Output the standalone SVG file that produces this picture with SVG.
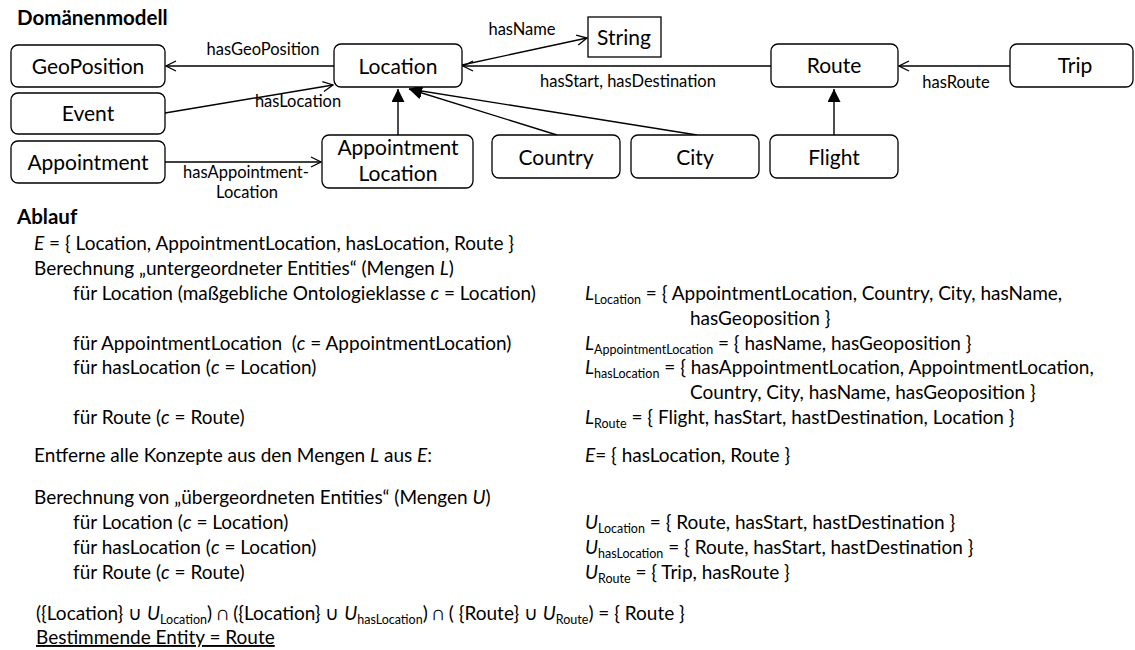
<svg xmlns="http://www.w3.org/2000/svg" width="1135" height="650" viewBox="0 0 1135 650">
  <style>
    text { font-family: Lato, "Liberation Sans", sans-serif; fill: #000; }
    .box { fill: #fff; stroke: #000; stroke-width: 1.3; }
    .lbl { font-size: 21px; text-anchor: middle; }
    .edge { font-size: 16.5px; text-anchor: middle; }
    .head { font-size: 20.5px; font-weight: bold; }
    .body { font-size: 19px; }
    .sub { font-size: 12.5px; }
    .it { font-style: italic; }
    .ln { fill: none; stroke: #000; stroke-width: 1.4; }
  </style>
  <defs>
    <marker id="open" viewBox="0 0 12 12" refX="11" refY="6" markerWidth="12" markerHeight="12" orient="auto" markerUnits="userSpaceOnUse">
      <path d="M1,1 L11,6 L1,11" fill="none" stroke="#000" stroke-width="1.3"/>
    </marker>
    <marker id="tri" viewBox="0 0 13 13" refX="13" refY="6.5" markerWidth="13" markerHeight="13" orient="auto" markerUnits="userSpaceOnUse">
      <path d="M0,0 L13,6.5 L0,13 z" fill="#000"/>
    </marker>
  </defs>

  <!-- domain model -->
  <text class="head" x="17" y="25">Domänenmodell</text>

  <g id="connectors">
    <line class="ln" x1="334" y1="66" x2="166" y2="66" marker-end="url(#open)"/>
    <line class="ln" x1="165" y1="113" x2="333" y2="85" marker-end="url(#open)"/>
    <line class="ln" x1="165" y1="162" x2="321" y2="162" marker-end="url(#open)"/>
    <line class="ln" x1="398" y1="135" x2="398" y2="89" marker-end="url(#tri)"/>
    <line class="ln" x1="557" y1="135" x2="409" y2="89" marker-end="url(#tri)"/>
    <line class="ln" x1="697" y1="135" x2="409" y2="89" marker-end="url(#tri)"/>
    <line class="ln" x1="462" y1="65" x2="587" y2="38" marker-end="url(#open)"/>
    <line class="ln" x1="771" y1="66" x2="463" y2="66" marker-end="url(#open)"/>
    <line class="ln" x1="1010" y1="66" x2="899" y2="66" marker-end="url(#open)"/>
    <line class="ln" x1="834" y1="135" x2="834" y2="89" marker-end="url(#tri)"/>
    <text class="edge" x="263" y="55">hasGeoPosition</text>
    <text class="edge" x="298" y="107">hasLocation</text>
    <text class="edge" x="246" y="178">hasAppointment-</text>
    <text class="edge" x="247" y="198">Location</text>
    <text class="edge" x="522" y="35">hasName</text>
    <text class="edge" x="628" y="87">hasStart, hasDestination</text>
    <text class="edge" x="956" y="88">hasRoute</text>
  </g>

  <g id="geoposition">
    <rect class="box" x="11" y="45" width="154" height="42" rx="7"/>
    <text class="lbl" x="88" y="74">GeoPosition</text>
  </g>
  <g id="event">
    <rect class="box" x="11" y="93" width="154" height="41" rx="7"/>
    <text class="lbl" x="88" y="121">Event</text>
  </g>
  <g id="appointment">
    <rect class="box" x="11" y="141" width="154" height="42" rx="7"/>
    <text class="lbl" x="88" y="170">Appointment</text>
  </g>
  <g id="location">
    <rect class="box" x="334" y="44" width="128" height="43" rx="7"/>
    <text class="lbl" x="398" y="74">Location</text>
  </g>
  <g id="appointment-location">
    <rect class="box" x="322" y="135" width="151" height="53" rx="7"/>
    <text class="lbl" x="398" y="155">Appointment</text>
    <text class="lbl" x="398" y="181">Location</text>
  </g>
  <g id="string">
    <rect class="box" x="588" y="17" width="73" height="40"/>
    <text class="lbl" x="624" y="45">String</text>
  </g>
  <g id="country">
    <rect class="box" x="492" y="135" width="128" height="43" rx="7"/>
    <text class="lbl" x="556" y="165">Country</text>
  </g>
  <g id="city">
    <rect class="box" x="631" y="135" width="128" height="43" rx="7"/>
    <text class="lbl" x="695" y="165">City</text>
  </g>
  <g id="flight">
    <rect class="box" x="770" y="135" width="128" height="43" rx="7"/>
    <text class="lbl" x="834" y="165">Flight</text>
  </g>
  <g id="route">
    <rect class="box" x="771" y="44" width="127" height="43" rx="7"/>
    <text class="lbl" x="834" y="73">Route</text>
  </g>
  <g id="trip">
    <rect class="box" x="1010" y="44" width="123" height="43" rx="7"/>
    <text class="lbl" x="1075" y="73">Trip</text>
  </g>

  <!-- procedure -->
  <text class="head" x="17" y="224">Ablauf</text>
  <g class="body">
    <text x="34" y="250"><tspan class="it">E</tspan> = { Location, AppointmentLocation, hasLocation, Route }</text>
    <text x="34" y="275">Berechnung „untergeordneter Entities“ (Mengen <tspan class="it">L</tspan>)</text>
    <text x="73" y="300">für Location (maßgebliche Ontologieklasse <tspan class="it">c</tspan> = Location)</text>
    <text x="73" y="350">für AppointmentLocation &#160;(<tspan class="it">c</tspan> = AppointmentLocation)</text>
    <text x="73" y="374">für hasLocation (<tspan class="it">c</tspan> = Location)</text>
    <text x="73" y="424">für Route (<tspan class="it">c</tspan> = Route)</text>

    <text x="585" y="300"><tspan class="it">L</tspan><tspan class="sub" dy="4">Location</tspan><tspan dy="-4"> = { AppointmentLocation, Country, City, hasName,</tspan></text>
    <text x="690" y="325">hasGeoposition }</text>
    <text x="585" y="350"><tspan class="it">L</tspan><tspan class="sub" dy="4">AppointmentLocation</tspan><tspan dy="-4"> = { hasName, hasGeoposition }</tspan></text>
    <text x="585" y="374"><tspan class="it">L</tspan><tspan class="sub" dy="4">hasLocation</tspan><tspan dy="-4"> = { hasAppointmentLocation, AppointmentLocation,</tspan></text>
    <text x="690" y="399">Country, City, hasName, hasGeoposition }</text>
    <text x="585" y="424"><tspan class="it">L</tspan><tspan class="sub" dy="4">Route</tspan><tspan dy="-4"> = { Flight, hasStart, hastDestination, Location }</tspan></text>

    <text x="34" y="462">Entferne alle Konzepte aus den Mengen <tspan class="it">L</tspan> aus <tspan class="it">E</tspan>:</text>
    <text x="585" y="462"><tspan class="it">E</tspan>= { hasLocation, Route }</text>

    <text x="34" y="504">Berechnung von „übergeordneten Entities“ (Mengen <tspan class="it">U</tspan>)</text>
    <text x="73" y="529">für Location (<tspan class="it">c</tspan> = Location)</text>
    <text x="73" y="554">für hasLocation (<tspan class="it">c</tspan> = Location)</text>
    <text x="73" y="579">für Route (<tspan class="it">c</tspan> = Route)</text>
    <text x="585" y="529"><tspan class="it">U</tspan><tspan class="sub" dy="4">Location</tspan><tspan dy="-4"> = { Route, hasStart, hastDestination }</tspan></text>
    <text x="585" y="554"><tspan class="it">U</tspan><tspan class="sub" dy="4">hasLocation</tspan><tspan dy="-4"> = { Route, hasStart, hastDestination }</tspan></text>
    <text x="585" y="579"><tspan class="it">U</tspan><tspan class="sub" dy="4">Route</tspan><tspan dy="-4"> = { Trip, hasRoute }</tspan></text>

    <text x="36" y="620">({Location} ∪ <tspan class="it">U</tspan><tspan class="sub" dy="4">Location</tspan><tspan dy="-4">) ∩ ({Location} ∪ </tspan><tspan class="it">U</tspan><tspan class="sub" dy="4">hasLocation</tspan><tspan dy="-4">) ∩ ( {Route} ∪ </tspan><tspan class="it">U</tspan><tspan class="sub" dy="4">Route</tspan><tspan dy="-4">) = { Route }</tspan></text>
    <text x="36" y="644" text-decoration="underline">Bestimmende Entity = Route</text>
  </g>
</svg>
